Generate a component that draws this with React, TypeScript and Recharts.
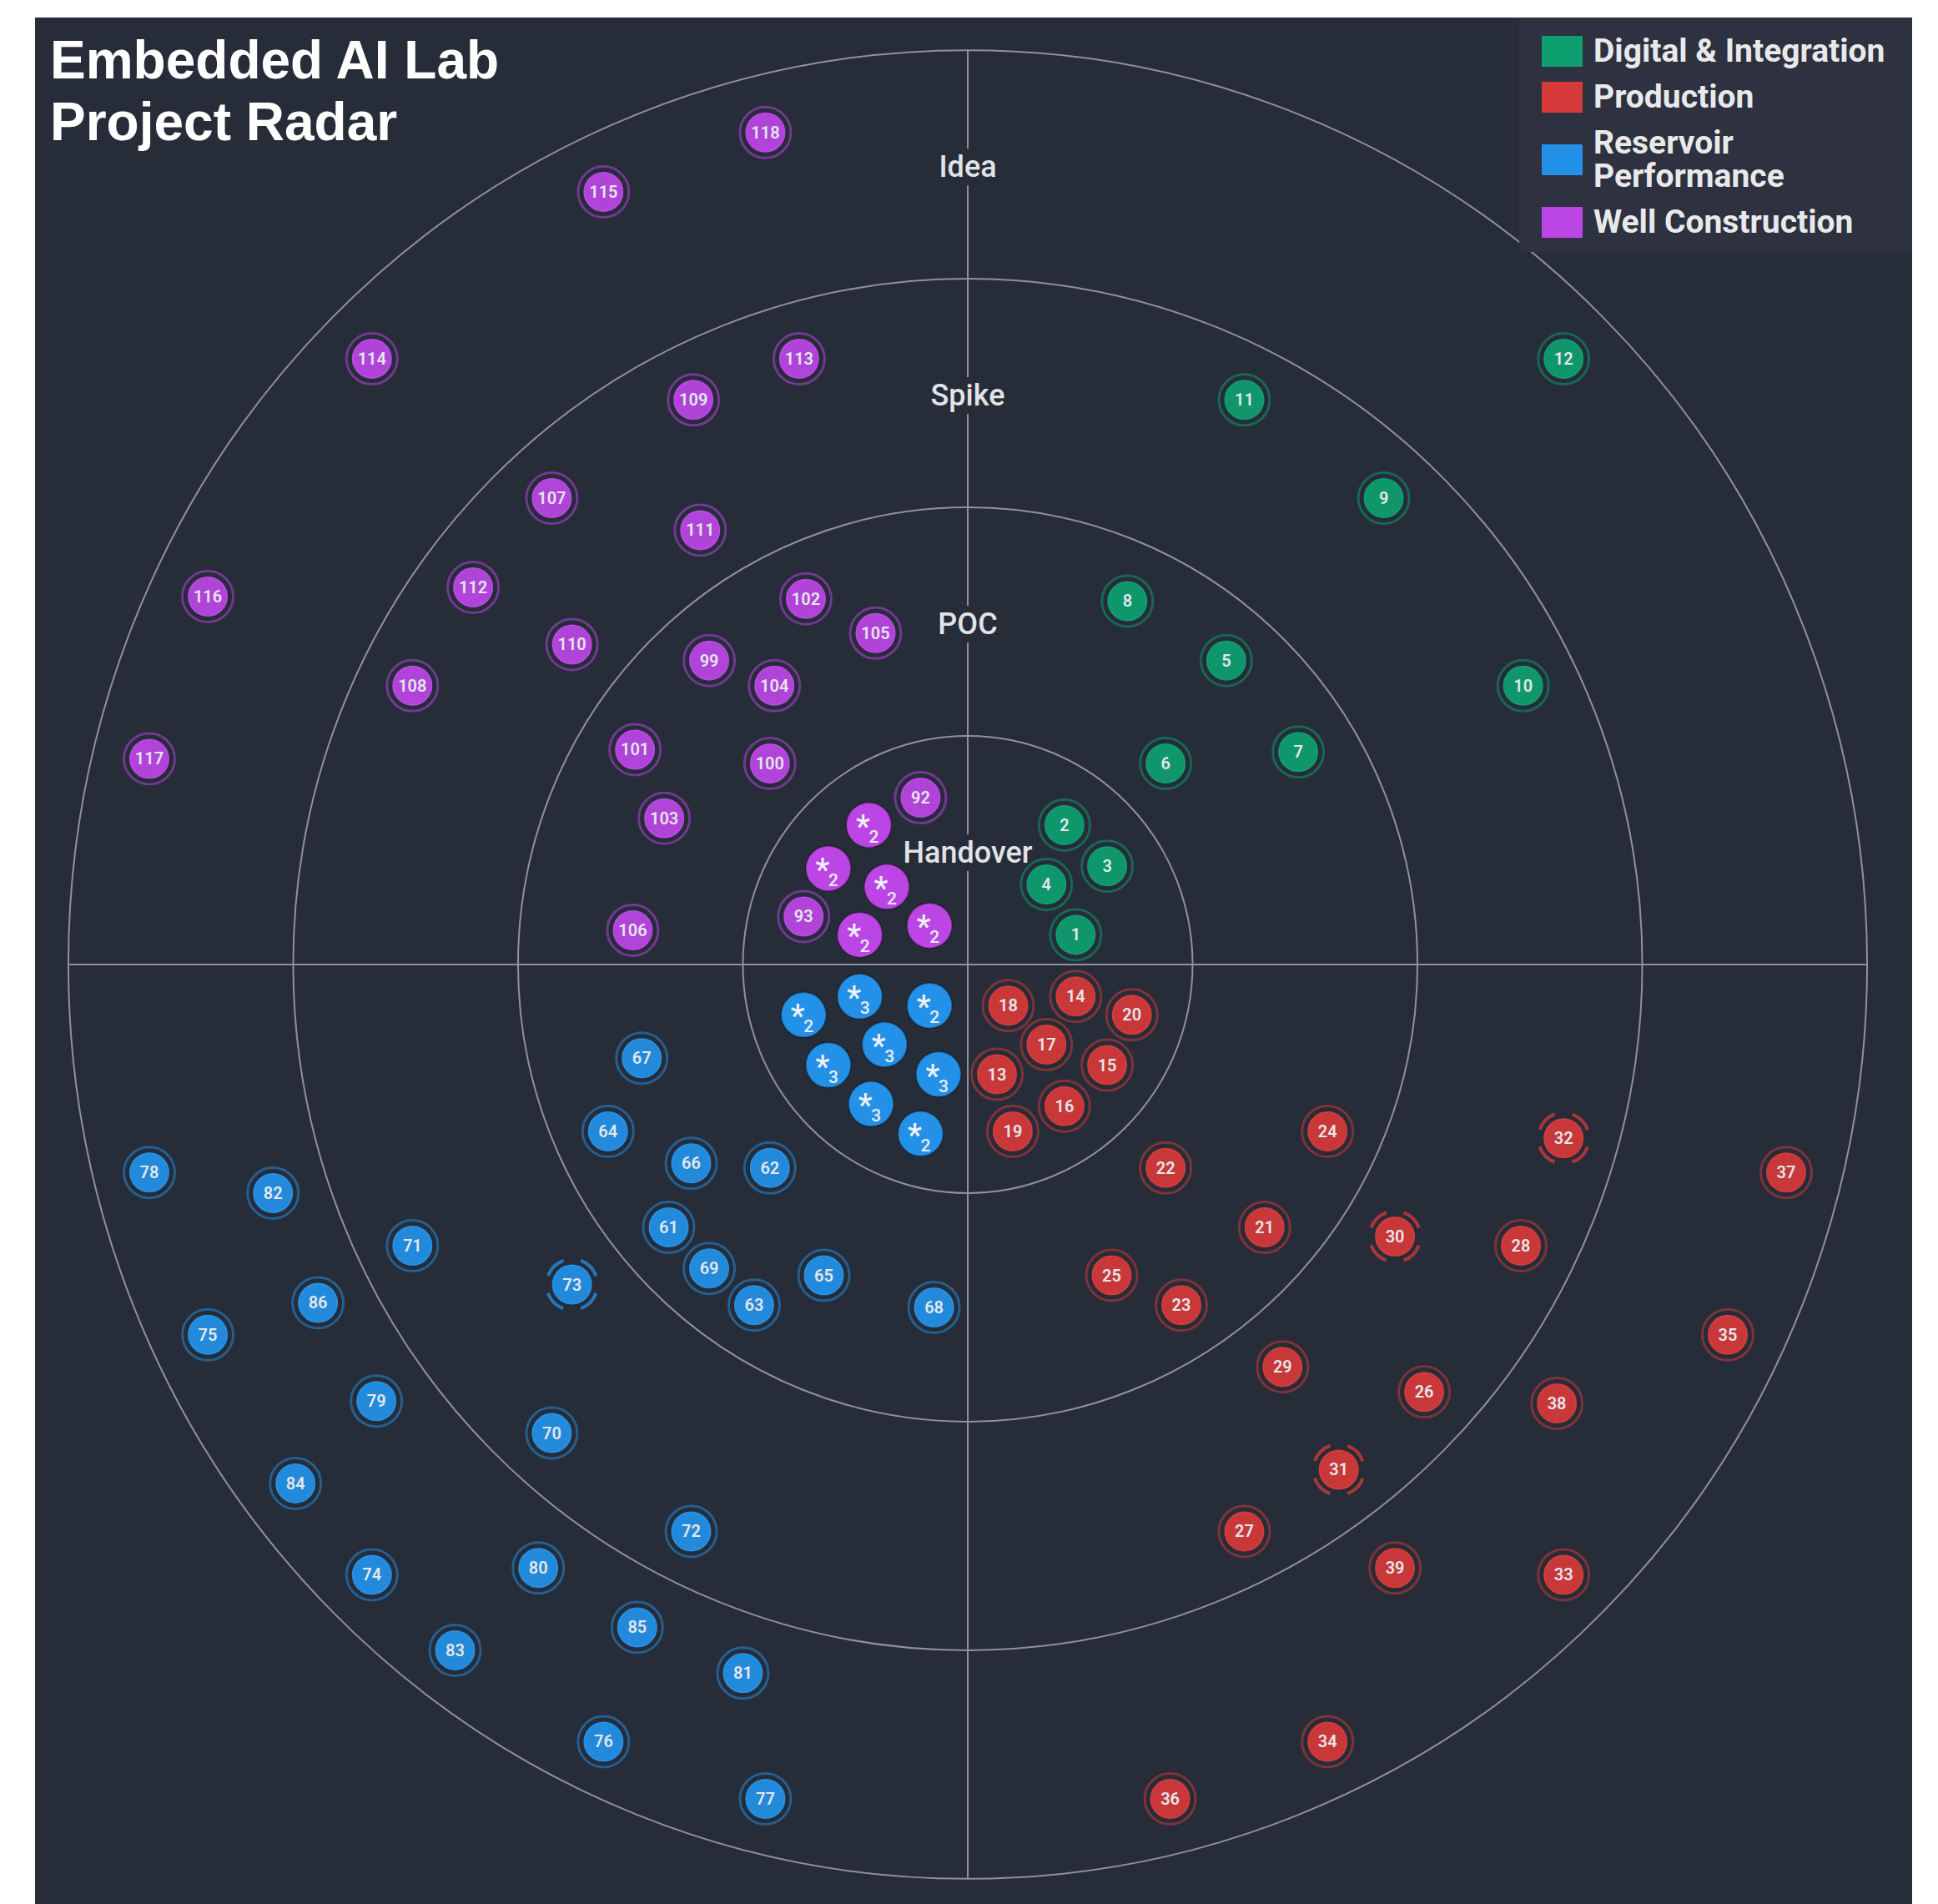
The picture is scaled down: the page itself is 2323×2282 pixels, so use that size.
import React from 'react';
import { ScatterChart, Scatter, XAxis, YAxis } from 'recharts';

// ---------- data ----------
const CATEGORIES = ['Digital & Integration', 'Production', 'Reservoir Performance', 'Well Construction'];
const COLORS = ['#0d9f70', '#d63a3a', '#2391e8', '#bc45e6'];
const STAGES = ['Handover', 'POC', 'Spike', 'Idea'];
const STAGE_POS = [0.5, 1.5, 2.5, 3.5];
const RING_RADII = [1, 2, 3, 4];
const TITLE_LINES = ['Embedded AI Lab', 'Project Radar'];

type P = { id?: string; star?: number; dashed?: boolean; x: number; y: number };

const digitalPoints: P[] = [
  { id: '1', x: 0.48, y: 0.13 },
  { id: '2', x: 0.43, y: 0.61 },
  { id: '3', x: 0.62, y: 0.43 },
  { id: '4', x: 0.35, y: 0.35 },
  { id: '5', x: 1.15, y: 1.33 },
  { id: '6', x: 0.88, y: 0.88 },
  { id: '7', x: 1.47, y: 0.93 },
  { id: '8', x: 0.71, y: 1.59 },
  { id: '9', x: 1.85, y: 2.04 },
  { id: '10', x: 2.47, y: 1.22 },
  { id: '11', x: 1.23, y: 2.47 },
  { id: '12', x: 2.65, y: 2.65 },
];

const productionPoints: P[] = [
  { id: '13', x: 0.13, y: -0.48 },
  { id: '14', x: 0.48, y: -0.14 },
  { id: '15', x: 0.62, y: -0.44 },
  { id: '16', x: 0.43, y: -0.62 },
  { id: '17', x: 0.35, y: -0.35 },
  { id: '18', x: 0.18, y: -0.18 },
  { id: '19', x: 0.2, y: -0.73 },
  { id: '20', x: 0.73, y: -0.22 },
  { id: '21', x: 1.32, y: -1.15 },
  { id: '22', x: 0.88, y: -0.89 },
  { id: '23', x: 0.95, y: -1.49 },
  { id: '24', x: 1.6, y: -0.73 },
  { id: '25', x: 0.64, y: -1.36 },
  { id: '26', x: 2.03, y: -1.87 },
  { id: '27', x: 1.23, y: -2.48 },
  { id: '28', x: 2.46, y: -1.23 },
  { id: '29', x: 1.4, y: -1.76 },
  { id: '30', x: 1.9, y: -1.19, dashed: true },
  { id: '31', x: 1.65, y: -2.21, dashed: true },
  { id: '32', x: 2.65, y: -0.76, dashed: true },
  { id: '33', x: 2.65, y: -2.67 },
  { id: '34', x: 1.6, y: -3.4 },
  { id: '35', x: 3.38, y: -1.62 },
  { id: '36', x: 0.9, y: -3.65 },
  { id: '37', x: 3.64, y: -0.91 },
  { id: '38', x: 2.62, y: -1.92 },
  { id: '39', x: 1.9, y: -2.64 },
];

const reservoirPoints: P[] = [
  { star: 2, x: -0.73, y: -0.22 },
  { star: 3, x: -0.48, y: -0.14 },
  { star: 2, x: -0.17, y: -0.18 },
  { star: 3, x: -0.37, y: -0.35 },
  { star: 3, x: -0.62, y: -0.44 },
  { star: 3, x: -0.13, y: -0.48 },
  { star: 3, x: -0.43, y: -0.61 },
  { star: 2, x: -0.21, y: -0.74 },
  { id: '61', x: -1.33, y: -1.15 },
  { id: '62', x: -0.88, y: -0.89 },
  { id: '63', x: -0.95, y: -1.49 },
  { id: '64', x: -1.6, y: -0.73 },
  { id: '65', x: -0.64, y: -1.36 },
  { id: '66', x: -1.23, y: -0.87 },
  { id: '67', x: -1.45, y: -0.41 },
  { id: '68', x: -0.15, y: -1.5 },
  { id: '69', x: -1.15, y: -1.33 },
  { id: '70', x: -1.85, y: -2.05 },
  { id: '71', x: -2.47, y: -1.23 },
  { id: '72', x: -1.23, y: -2.48 },
  { id: '73', x: -1.76, y: -1.4, dashed: true },
  { id: '74', x: -2.65, y: -2.67 },
  { id: '75', x: -3.38, y: -1.62 },
  { id: '76', x: -1.62, y: -3.4 },
  { id: '77', x: -0.9, y: -3.65 },
  { id: '78', x: -3.64, y: -0.91 },
  { id: '79', x: -2.63, y: -1.91 },
  { id: '80', x: -1.91, y: -2.64 },
  { id: '81', x: -1.0, y: -3.1 },
  { id: '82', x: -3.09, y: -1.0 },
  { id: '83', x: -2.28, y: -3.0 },
  { id: '84', x: -2.99, y: -2.27 },
  { id: '85', x: -1.47, y: -2.9 },
  { id: '86', x: -2.89, y: -1.48 },
];

const wellPoints: P[] = [
  { star: 2, x: -0.44, y: 0.61 },
  { star: 2, x: -0.62, y: 0.42 },
  { star: 2, x: -0.36, y: 0.34 },
  { star: 2, x: -0.48, y: 0.13 },
  { star: 2, x: -0.17, y: 0.17 },
  { id: '92', x: -0.21, y: 0.73 },
  { id: '93', x: -0.73, y: 0.21 },
  { id: '99', x: -1.15, y: 1.33 },
  { id: '100', x: -0.88, y: 0.88 },
  { id: '101', x: -1.48, y: 0.94 },
  { id: '102', x: -0.72, y: 1.6 },
  { id: '103', x: -1.35, y: 0.64 },
  { id: '104', x: -0.86, y: 1.22 },
  { id: '105', x: -0.41, y: 1.45 },
  { id: '106', x: -1.49, y: 0.15 },
  { id: '107', x: -1.85, y: 2.04 },
  { id: '108', x: -2.47, y: 1.22 },
  { id: '109', x: -1.22, y: 2.47 },
  { id: '110', x: -1.76, y: 1.4 },
  { id: '111', x: -1.19, y: 1.9 },
  { id: '112', x: -2.2, y: 1.65 },
  { id: '113', x: -0.75, y: 2.65 },
  { id: '114', x: -2.65, y: 2.65 },
  { id: '115', x: -1.62, y: 3.38 },
  { id: '116', x: -3.38, y: 1.61 },
  { id: '117', x: -3.64, y: 0.9 },
  { id: '118', x: -0.9, y: 3.64 },
];

const SERIES = [digitalPoints, productionPoints, reservoirPoints, wellPoints];

// ---------- layout ----------
const BG = '#262c38';
const CHART_W = 2250;
const CHART_H = 2261;
const MARGIN = { top: 30, right: 27, bottom: 21, left: 13 };
const X_DOMAIN = 4.1;
const Y_STRETCH = 1.0165;
const Y_DOMAIN = X_DOMAIN / Y_STRETCH;
const PLOT_W = CHART_W - MARGIN.left - MARGIN.right;
const PLOT_H = CHART_H - MARGIN.top - MARGIN.bottom;
const PPU_X = PLOT_W / (2 * X_DOMAIN);
const PPU_Y = PLOT_H / (2 * Y_DOMAIN);
const FONT = 'Roboto, "Noto Sans", sans-serif';

const gridData = [{ x: 0, y: 0 }];
const stageData = STAGES.map((s, i) => ({ x: 0, y: STAGE_POS[i], label: s }));

const GridShape = (props: any) => {
  const { cx, cy } = props;
  const outer = RING_RADII[RING_RADII.length - 1];
  return (
    <g>
      {RING_RADII.map((r) => (
        <ellipse key={r} cx={cx} cy={cy} rx={r * PPU_X} ry={r * PPU_Y} fill="none" stroke="#8e929b" strokeWidth={2} />
      ))}
      <line x1={cx - outer * PPU_X} y1={cy} x2={cx + outer * PPU_X} y2={cy} stroke="#8e929b" strokeWidth={2} />
      <line x1={cx} y1={cy - outer * PPU_Y} x2={cx} y2={cy + outer * PPU_Y} stroke="#8e929b" strokeWidth={2} />
    </g>
  );
};

const StageShape = (props: any) => {
  const { cx, cy, payload } = props;
  const fs = 36;
  const w = payload.label.length * fs * 0.56 + 8;
  return (
    <g>
      <rect x={cx - w / 2} y={cy - 19} width={w} height={44} fill={BG} />
      <text
        x={cx}
        y={cy + 15}
        textAnchor="middle"
        fontFamily={FONT}
        fontWeight={500}
        fontSize={fs}
        fill="#e2e3e6"
      >
        {payload.label}
      </text>
    </g>
  );
};

const makePointShape = (color: string) => (props: any) => {
  const { cx, cy, payload } = props;
  if (payload.star) {
    return (
      <g>
        <circle cx={cx} cy={cy} r={27} fill={color} stroke="rgba(0,0,0,0.25)" strokeWidth={2} />
        <text x={cx - 7} y={cy + 15} textAnchor="middle" fontFamily={FONT} fontWeight={500} fontSize={38} fill="#eef0f4">
          *
        </text>
        <text x={cx + 6} y={cy + 21} textAnchor="middle" fontFamily={FONT} fontWeight={500} fontSize={21} fill="#e8ebf0">
          {payload.star}
        </text>
      </g>
    );
  }
  const ringR = 30.5;
  const circ = 2 * Math.PI * ringR;
  const dash = circ / 7.2;
  const gap = circ / 4 - dash;
  return (
    <g>
      {payload.dashed ? (
        <circle
          cx={cx}
          cy={cy}
          r={ringR}
          fill="none"
          stroke={color}
          strokeOpacity={0.75}
          strokeWidth={4}
          strokeDasharray={`${dash} ${gap}`}
          strokeDashoffset={-(circ / 8 - dash / 2)}
        />
      ) : (
        <circle cx={cx} cy={cy} r={ringR} fill="none" stroke={color} strokeOpacity={0.5} strokeWidth={3} />
      )}
      <circle cx={cx} cy={cy} r={23} fill={color} fillOpacity={0.92} stroke={color} strokeWidth={2} />
      <text
        x={cx}
        y={cy + 7}
        textAnchor="middle"
        fontFamily={FONT}
        fontWeight={600}
        fontSize={20}
        fill="#e3e7ea"
      >
        {payload.id}
      </text>
    </g>
  );
};

const Legend = () => (
  <div
    style={{
      position: 'absolute',
      left: 1821,
      top: 21,
      width: 471,
      height: 281,
      background: '#2d3140',
      boxSizing: 'border-box',
      paddingTop: 20,
      paddingLeft: 27,
      display: 'flex',
      flexDirection: 'column',
      gap: 15,
      fontFamily: FONT,
      fontWeight: 700,
      fontSize: 39,
      lineHeight: '40px',
      color: '#e9e9ea',
    }}
  >
    {CATEGORIES.map((c, i) => (
      <div key={c} style={{ display: 'flex', alignItems: 'center' }}>
        <div style={{ width: 49, height: 37, background: COLORS[i], marginRight: 13, flexShrink: 0 }} />
        <div style={{ width: 372, whiteSpace: 'normal' }}>{c}</div>
      </div>
    ))}
  </div>
);

export default function App() {
  return (
    <div style={{ position: 'absolute', left: 0, top: 0, width: 2323, height: 2282, background: '#ffffff', overflow: 'hidden' }}>
      <div style={{ position: 'absolute', left: 42, top: 21, width: CHART_W, height: CHART_H, background: BG }}>
        <ScatterChart width={CHART_W} height={CHART_H} margin={MARGIN}>
          <XAxis type="number" dataKey="x" domain={[-X_DOMAIN, X_DOMAIN]} hide />
          <YAxis type="number" dataKey="y" domain={[-Y_DOMAIN, Y_DOMAIN]} hide />
          <Scatter data={gridData} shape={GridShape} isAnimationActive={false} />
          <Scatter data={stageData} shape={StageShape} isAnimationActive={false} />
          {SERIES.map((d, i) => (
            <Scatter
              key={CATEGORIES[i]}
              name={CATEGORIES[i]}
              data={d}
              fill={COLORS[i]}
              shape={makePointShape(COLORS[i])}
              isAnimationActive={false}
            />
          ))}
        </ScatterChart>
      </div>
      <div
        style={{
          position: 'absolute',
          left: 60,
          top: 35,
          fontFamily: '"Liberation Sans", Arial, sans-serif',
          fontWeight: 700,
          fontSize: 64,
          lineHeight: '74px',
          color: '#ffffff',
        }}
      >
        {TITLE_LINES.map((t) => (
          <div key={t}>{t}</div>
        ))}
      </div>
      <Legend />
    </div>
  );
}
